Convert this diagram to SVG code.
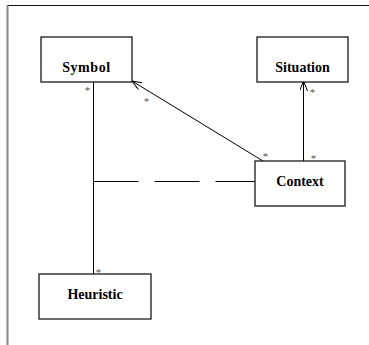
<svg xmlns="http://www.w3.org/2000/svg" width="369" height="345" viewBox="0 0 369 345">
  <style>
    .box { fill: #ffffff; stroke: #1a1a1a; stroke-width: 1.3; }
    .name { font-family: "Liberation Serif", "Times New Roman", serif; font-weight: bold; font-size: 14px; fill: #000; text-anchor: middle; }
    .edge { fill: none; stroke: #000; stroke-width: 1; }
    .mult { font-family: "Liberation Serif", "Times New Roman", serif; font-size: 11px; fill: #555; text-anchor: middle; }
  </style>
  <defs>
    <marker id="open-arrow" markerUnits="userSpaceOnUse" viewBox="0 0 10 8" markerWidth="10" markerHeight="8" refX="10" refY="4" orient="auto">
      <path d="M0,0 L10,4 L0,8" fill="none" stroke="#000" stroke-width="1"/>
    </marker>
  </defs>

  <rect width="369" height="345" fill="#ffffff"/>

  <!-- frame -->
  <line x1="7" y1="5.5" x2="369" y2="5.5" stroke="#111" stroke-width="1.2"/>
  <line x1="7.5" y1="5" x2="7.5" y2="345" stroke="#888" stroke-width="2"/>

  <!-- connectors -->
  <g id="connectors">
    <line class="edge" x1="93.5" y1="81" x2="93.5" y2="274"/>
    <line class="edge" x1="93.5" y1="181.5" x2="255" y2="181.5" stroke-dasharray="45 16"/>
    <line class="edge" x1="263" y1="161" x2="132" y2="81" marker-end="url(#open-arrow)"/>
    <line class="edge" x1="303.5" y1="161" x2="303.5" y2="81" marker-end="url(#open-arrow)"/>
    <text class="mult" x="87.5" y="94">*</text>
    <text class="mult" x="146.5" y="105">*</text>
    <text class="mult" x="312.5" y="96">*</text>
    <text class="mult" x="265.5" y="160">*</text>
    <text class="mult" x="313.5" y="161.5">*</text>
    <text class="mult" x="98.5" y="276">*</text>
  </g>

  <g id="symbol">
    <rect class="box" x="41" y="37" width="91" height="45"/>
    <text class="name" x="86.5" y="72" letter-spacing="0.6">Symbol</text>
  </g>

  <g id="situation">
    <rect class="box" x="257" y="37" width="91" height="45"/>
    <text class="name" x="302.5" y="72">Situation</text>
  </g>

  <g id="context">
    <rect class="box" x="255" y="161" width="90" height="45"/>
    <text class="name" x="300" y="186">Context</text>
  </g>

  <g id="heuristic">
    <rect class="box" x="39" y="274" width="112" height="45"/>
    <text class="name" x="95" y="299">Heuristic</text>
  </g>
</svg>
